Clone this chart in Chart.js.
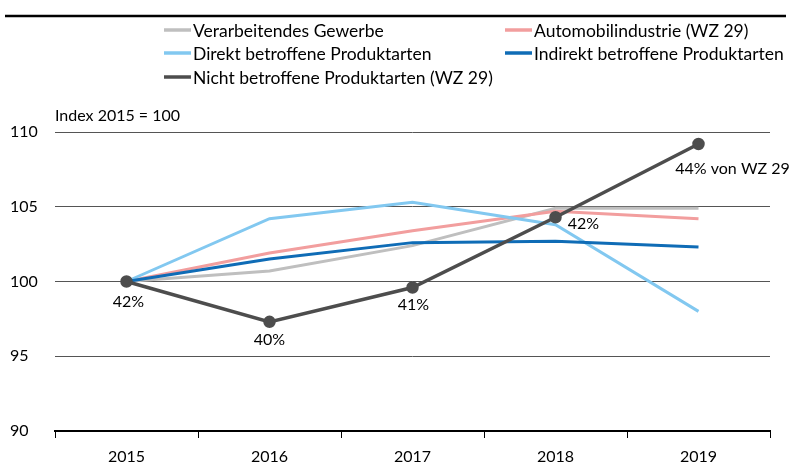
<!DOCTYPE html>
<html>
<head>
<meta charset="utf-8">
<script src="https://cdn.jsdelivr.net/npm/chart.js@4/dist/chart.umd.min.js"></script>
<style>
    html, body { margin: 0; padding: 0; background: #fff; }
    #wrap { width: 792px; height: 463px; }
</style>
</head>
<body>
<div id="wrap"><canvas id="chart" width="792" height="463"></canvas></div>
<script>
const years = ["2015", "2016", "2017", "2018", "2019"];
const verarbeitend = [100, 100.7, 102.4, 104.9, 104.9];
const automobil = [100, 101.9, 103.4, 104.7, 104.2];
const direkt = [100, 104.2, 105.3, 103.8, 98.0];
const indirekt = [100, 101.5, 102.6, 102.7, 102.3];
const nicht = [100, 97.3, 99.6, 104.3, 109.2];
const nichtLabels = ["42%", "40%", "41%", "42%", "44% von WZ 29"];
const yTicks = [90, 95, 100, 105, 110];

const FONT = "Lato, 'Noto Sans', sans-serif";

// legend drawn by hand: two columns like the original
const legendPlugin = {
    id: "twoColLegend",
    afterDraw(chart) {
        const ctx = chart.ctx;
        const items = [
            { ds: 0, x: 164, y: 30 },
            { ds: 1, x: 505, y: 30 },
            { ds: 2, x: 164, y: 53 },
            { ds: 3, x: 505, y: 53 },
            { ds: 4, x: 164, y: 77 }
        ];
        ctx.save();
        ctx.font = "17.5px " + FONT;
        ctx.textBaseline = "middle";
        items.forEach(it => {
            const ds = chart.data.datasets[it.ds];
            ctx.strokeStyle = ds.borderColor;
            ctx.lineWidth = 3.5;
            ctx.beginPath();
            ctx.moveTo(it.x, it.y);
            ctx.lineTo(it.x + 27, it.y);
            ctx.stroke();
            ctx.fillStyle = "#000";
            ctx.fillText(ds.label, it.x + 29, it.y + 1);
        });
        // rule under the (cut off) title
        ctx.strokeStyle = "#000";
        ctx.lineWidth = 2.5;
        ctx.beginPath();
        ctx.moveTo(5, 16);
        ctx.lineTo(786, 16);
        ctx.stroke();
        // unit note
        ctx.font = "16px " + FONT;
        ctx.textBaseline = "alphabetic";
        ctx.fillText("Index 2015 = 100", 55, 121);
        ctx.restore();
    }
};

// share labels for the dark series
const pointLabels = {
    id: "pointLabels",
    afterDatasetsDraw(chart) {
        const ctx = chart.ctx;
        const meta = chart.getDatasetMeta(4);
        const offs = [[2, 20], [0, 18], [1, 17], [28, 7], [34, 25]];
        ctx.save();
        ctx.font = "16px " + FONT;
        ctx.fillStyle = "#000";
        ctx.textAlign = "center";
        ctx.textBaseline = "middle";
        meta.data.forEach((pt, i) => {
            ctx.fillText(nichtLabels[i], pt.x + offs[i][0], pt.y + offs[i][1]);
        });
        ctx.restore();
    }
};

function line(label, data, color, order) {
    return {
        label: label,
        data: data,
        borderColor: color,
        backgroundColor: color,
        borderWidth: 3,
        pointRadius: 0,
        tension: 0,
        order: order
    };
}

const datasets = [
    line("Verarbeitendes Gewerbe", verarbeitend, "#BFBFBF", 5),
    line("Automobilindustrie (WZ 29)", automobil, "#F29E9E", 4),
    line("Direkt betroffene Produktarten", direkt, "#82C8F0", 3),
    line("Indirekt betroffene Produktarten", indirekt, "#0F6CB6", 2),
    line("Nicht betroffene Produktarten (WZ 29)", nicht, "#4D4D4D", 0)
];
datasets[4].borderWidth = 3.5;
datasets[4].pointRadius = 4.5;

new Chart(document.getElementById("chart").getContext("2d"), {
    type: "line",
    data: { labels: years, datasets: datasets },
    options: {
        responsive: false,
        animation: false,
        layout: { padding: { top: 132, left: 10, right: 22, bottom: 0 } },
        plugins: {
            legend: { display: false },
            tooltip: { enabled: false }
        },
        scales: {
            x: {
                offset: true,
                grid: {
                    display: true,
                    offset: true,
                    drawOnChartArea: false,
                    drawTicks: true,
                    tickLength: 7,
                    color: "#000"
                },
                border: { display: true, color: "#000", width: 2 },
                ticks: {
                    color: "#000",
                    font: { family: FONT, size: 16 },
                    padding: 9,
                    maxRotation: 0
                },
                afterFit(scale) { scale.height = 32; }
            },
            y: {
                min: 90,
                max: 110,
                afterBuildTicks(scale) {
                    scale.ticks = yTicks.map(v => ({ value: v }));
                },
                grid: {
                    color: "#555",
                    lineWidth: 1,
                    drawTicks: false
                },
                border: { display: false },
                ticks: {
                    color: "#000",
                    crossAlign: "far",
                    font: { family: FONT, size: 16 },
                    padding: 8
                },
                afterFit(scale) { scale.width = 45; }
            }
        }
    },
    plugins: [legendPlugin, pointLabels]
});
</script>
</body>
</html>
